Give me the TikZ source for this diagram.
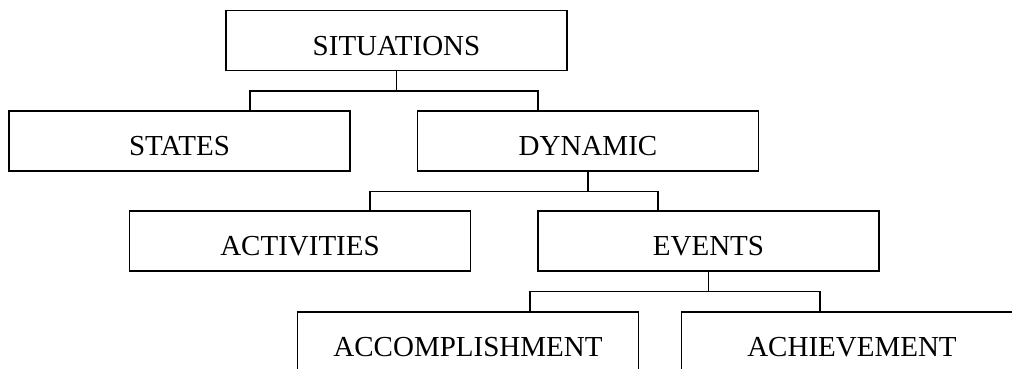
\documentclass[tikz,border=0pt]{standalone}
\usepackage{fontspec}
\setmainfont{Liberation Serif}

\begin{document}
\begin{tikzpicture}[x=1pt, y=1pt,
    box/.style={rectangle, draw, line width=1.5pt, minimum width=341pt, minimum height=60pt,
        inner sep=0pt, text height=30pt, text depth=0pt, font=\fontsize{29}{35}\selectfont},
    link/.style={line width=1.5pt}]
    \useasboundingbox (0,0) rectangle (1012,369);
    \clip (0,0) rectangle (1012,369);
    \node[box] (sit) at (396.5,328.5) {SITUATIONS};
    \node[box] (states) at (179.5,228) {STATES};
    \node[box] (dyn) at (588,228) {DYNAMIC};
    \node[box] (act) at (300,128) {ACTIVITIES};
    \node[box] (evt) at (708.5,128) {EVENTS};
    \node[box] (acc) at (468,27) {ACCOMPLISHMENT};
    \node[box] (ach) at (852,27) {ACHIEVEMENT};
    \draw[link] (sit.south) -- ++(0,-20) coordinate (f1);
    \draw[link] ([xshift=70.5pt]states.north) |- (f1) -| ([xshift=-50pt]dyn.north);
    \draw[link] (dyn.south) -- ++(0,-20) coordinate (f2);
    \draw[link] ([xshift=70pt]act.north) |- (f2) -| ([xshift=-50.5pt]evt.north);
    \draw[link] (evt.south) -- ++(0,-20) coordinate (f3);
    \draw[link] ([xshift=62pt]acc.north) |- (f3) -| ([xshift=-32pt]ach.north);
\end{tikzpicture}
\end{document}
